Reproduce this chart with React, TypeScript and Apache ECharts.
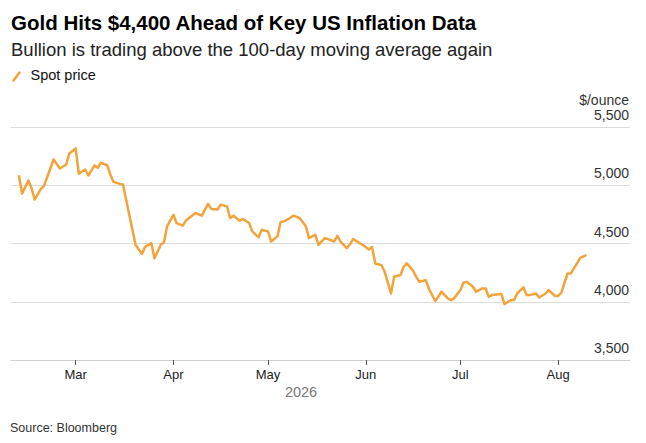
import React, { useEffect, useRef } from 'react';
import * as echarts from 'echarts';

// ---- Data ----
const dates: string[] = [
  '2026-02-11', '2026-02-12', '2026-02-14', '2026-02-15', '2026-02-16', '2026-02-18', '2026-02-19',
  '2026-02-22', '2026-02-24', '2026-02-26', '2026-02-27', '2026-03-01', '2026-03-02', '2026-03-04',
  '2026-03-05', '2026-03-07', '2026-03-08', '2026-03-09', '2026-03-11', '2026-03-12', '2026-03-13',
  '2026-03-15', '2026-03-16', '2026-03-20', '2026-03-22', '2026-03-23', '2026-03-25', '2026-03-26',
  '2026-03-28', '2026-03-29', '2026-03-30', '2026-04-01', '2026-04-02', '2026-04-04', '2026-04-05',
  '2026-04-06', '2026-04-08', '2026-04-10', '2026-04-12', '2026-04-13', '2026-04-15', '2026-04-16',
  '2026-04-18', '2026-04-19', '2026-04-20', '2026-04-22', '2026-04-23', '2026-04-25', '2026-04-26',
  '2026-04-28', '2026-04-29', '2026-05-01', '2026-05-02', '2026-05-04', '2026-05-05', '2026-05-06',
  '2026-05-08', '2026-05-09', '2026-05-11', '2026-05-12', '2026-05-13', '2026-05-14', '2026-05-16',
  '2026-05-17', '2026-05-19', '2026-05-20', '2026-05-22', '2026-05-23', '2026-05-24', '2026-05-26',
  '2026-05-27', '2026-05-28', '2026-05-30', '2026-05-31', '2026-06-02', '2026-06-03', '2026-06-04',
  '2026-06-06', '2026-06-07', '2026-06-09', '2026-06-10', '2026-06-12', '2026-06-13', '2026-06-14',
  '2026-06-16', '2026-06-17', '2026-06-18', '2026-06-20', '2026-06-21', '2026-06-23', '2026-06-24',
  '2026-06-25', '2026-06-27', '2026-06-28', '2026-06-29', '2026-07-01', '2026-07-02', '2026-07-03',
  '2026-07-05', '2026-07-06', '2026-07-08', '2026-07-09', '2026-07-10', '2026-07-11', '2026-07-14',
  '2026-07-15', '2026-07-17', '2026-07-18', '2026-07-19', '2026-07-21', '2026-07-22', '2026-07-23',
  '2026-07-25', '2026-07-26', '2026-07-28', '2026-07-29', '2026-07-31', '2026-08-01', '2026-08-02',
  '2026-08-04', '2026-08-05', '2026-08-07', '2026-08-08', '2026-08-10',
];

const spotPrice: number[] = [
  5086, 4928, 5040, 4977, 4877, 4969, 4997,
  5221, 5144, 5178, 5273, 5316, 5098, 5135,
  5084, 5170, 5150, 5193, 5172, 5092, 5029,
  5012, 5006, 4489, 4411, 4469, 4503, 4374,
  4489, 4509, 4647, 4747, 4675, 4653, 4698,
  4719, 4762, 4739, 4840, 4797, 4791, 4834,
  4819, 4719, 4739, 4696, 4710, 4676, 4604,
  4552, 4618, 4604, 4517, 4561, 4684, 4690,
  4719, 4739, 4719, 4684, 4647, 4546, 4575,
  4489, 4546, 4538, 4517, 4566, 4517, 4460,
  4495, 4538, 4503, 4489, 4448, 4471, 4329,
  4314, 4257, 4071, 4214, 4229, 4300, 4329,
  4266, 4214, 4171, 4186, 4114, 4006, 4043,
  4086, 4029, 4014, 4029, 4100, 4163, 4171,
  4129, 4086, 4114, 4114, 4043, 4057, 4066,
  3980, 4014, 4014, 4071, 4123, 4057, 4057,
  4071, 4036, 4071, 4100, 4050, 4050, 4077,
  4243, 4243, 4329, 4377, 4400,
];

const monthStarts: string[] = ['2026-03-01', '2026-04-01', '2026-05-01', '2026-06-01', '2026-07-01', '2026-08-01'];
const monthLabels: string[] = ['Mar', 'Apr', 'May', 'Jun', 'Jul', 'Aug'];
const yTicks: number[] = [3500, 4000, 4500, 5000, 5500];
const xRange: string[] = ['2026-02-08T12:00', '2026-08-23T19:00'];

const titleText = 'Gold Hits $4,400 Ahead of Key US Inflation Data';
const subtitleText = 'Bullion is trading above the 100-day moving average again';
const legendText = 'Spot price';
const unitText = '$/ounce';
const yearText = '2026';
const sourceText = 'Source: Bloomberg';

// ---- helpers ----
const ts = (s: string): number => {
  const [d, t] = s.split('T');
  const [y, m, dd] = d.split('-').map(Number);
  const [hh, mm] = t ? t.split(':').map(Number) : [0, 0];
  return new Date(y, m - 1, dd, hh, mm).getTime();
};

const FONT = '"Liberation Sans", Arial, Helvetica, sans-serif';
const ORANGE = '#F2A33A';

export default function App() {
  const ref = useRef<HTMLDivElement>(null);

  useEffect(() => {
    if (!ref.current) return;
    const chart = echarts.init(ref.current, null, { renderer: 'svg' });
    const monthTs = monthStarts.map(ts);
    const seriesData = dates.map((d, i) => [ts(d), spotPrice[i]]);

    const option: any = {
      animation: false,
      backgroundColor: '#ffffff',
      textStyle: { fontFamily: FONT },
      grid: {
        left: 11,
        right: 16,
        top: 127,
        bottom: 83,
        containLabel: false,
        outerBoundsMode: 'none',
      },
      xAxis: {
        type: 'value',
        min: ts(xRange[0]),
        max: ts(xRange[1]),
        axisLine: { show: true, lineStyle: { color: '#cfcfcf', width: 1 } },
        axisTick: {
          show: true,
          customValues: monthTs,
          length: 5,
          lineStyle: { color: '#555555', width: 1 },
        },
        axisLabel: {
          customValues: monthTs,
          margin: 8,
          color: '#222222',
          fontSize: 13,
          fontFamily: FONT,
          formatter: (v: number) => {
            const idx = monthTs.indexOf(v);
            return idx >= 0 ? monthLabels[idx] : '';
          },
        },
        splitLine: { show: false },
      },
      yAxis: {
        type: 'value',
        position: 'right',
        min: yTicks[0],
        max: yTicks[yTicks.length - 1],
        interval: yTicks[1] - yTicks[0],
        axisLine: { show: false },
        axisTick: { show: false },
        splitLine: { show: true, lineStyle: { color: '#dddddd', width: 1 } },
        axisLabel: {
          inside: true,
          margin: 1,
          color: '#333333',
          fontSize: 14,
          fontFamily: FONT,
          verticalAlign: 'bottom',
          lineHeight: 14,
          padding: [0, 0, 5, 0],
          formatter: (v: number) => v.toLocaleString('en-US'),
        },
      },
      series: [
        {
          type: 'line',
          name: legendText,
          data: seriesData,
          showSymbol: false,
          symbol: 'none',
          lineStyle: { color: ORANGE, width: 2.5, join: 'round' },
          itemStyle: { color: ORANGE },
          z: 5,
        },
      ],
      graphic: [
        {
          type: 'text',
          x: 11,
          y: 22,
          style: {
            text: titleText,
            fontFamily: FONT,
            fontSize: 20.5,
            fontWeight: 'bold',
            fill: '#000000',
            verticalAlign: 'middle',
          },
        },
        {
          type: 'text',
          x: 11,
          y: 49,
          style: {
            text: subtitleText,
            fontFamily: FONT,
            fontSize: 18.5,
            fill: '#222222',
            verticalAlign: 'middle',
          },
        },
        {
          type: 'line',
          shape: { x1: 13.5, y1: 80.5, x2: 19.5, y2: 72.5 },
          style: { stroke: ORANGE, lineWidth: 2.5, lineCap: 'round' },
        },
        {
          type: 'text',
          x: 30.5,
          y: 74.5,
          style: {
            text: legendText,
            fontFamily: FONT,
            fontSize: 14.5,
            fill: '#111111',
            verticalAlign: 'middle',
          },
        },
        {
          type: 'text',
          x: 629,
          y: 100,
          style: {
            text: unitText,
            fontFamily: FONT,
            fontSize: 14,
            fill: '#333333',
            align: 'right',
            verticalAlign: 'middle',
          },
        },
        {
          type: 'text',
          x: 301,
          y: 392,
          style: {
            text: yearText,
            fontFamily: FONT,
            fontSize: 14.5,
            fill: '#777777',
            align: 'center',
            verticalAlign: 'middle',
          },
        },
        {
          type: 'text',
          x: 10,
          y: 428,
          style: {
            text: sourceText,
            fontFamily: FONT,
            fontSize: 12.5,
            fill: '#333333',
            verticalAlign: 'middle',
          },
        },
      ],
    };

    chart.setOption(option);
    return () => {
      chart.dispose();
    };
  }, []);

  return (
    <div
      ref={ref}
      style={{ position: 'fixed', left: 0, top: 0, width: 646, height: 443, background: '#ffffff' }}
    />
  );
}
